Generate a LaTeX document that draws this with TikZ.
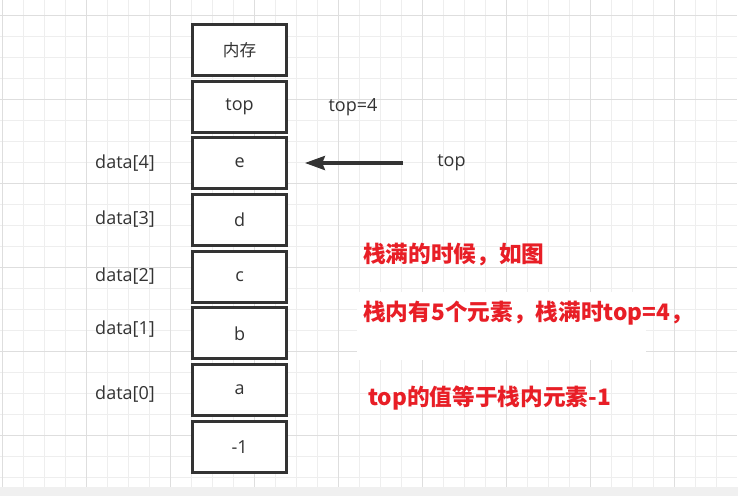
\documentclass[tikz,border=0pt]{standalone}
\usepackage{fontspec}
\setmainfont{Open Sans}
\newfontfamily\cjk{Noto Sans CJK SC}
\usetikzlibrary{arrows.meta}
\definecolor{gridminor}{RGB}{238,238,238}
\definecolor{gridmajor}{RGB}{222,222,222}
\definecolor{ink}{RGB}{51,51,51}
\definecolor{redtxt}{RGB}{232,30,38}
\definecolor{band}{RGB}{240,240,240}
\begin{document}
\begin{tikzpicture}[x=0.75pt,y=-0.75pt,
  cell/.style={draw=ink, line width=2.25pt, minimum width=70.7pt, minimum height=38.25pt,
    inner sep=0pt, text=ink, fill=white, font=\fontsize{13.5pt}{16pt}\selectfont},
  lbl/.style={text=ink, inner sep=0pt, font=\fontsize{13.5pt}{16pt}\selectfont},
  note/.style={text=redtxt, anchor=west, inner sep=0pt, font=\cjk\bfseries\fontsize{17pt}{20pt}\selectfont},
  arr/.style={draw=ink, line width=2.6pt, -{Stealth[length=15pt,width=10.5pt,inset=2pt]}},
  gminor/.style={draw=gridminor, line width=0.75pt},
  gmajor/.style={draw=gridmajor, line width=0.75pt}
]
\useasboundingbox (0,0) rectangle (738,496);
\fill[white] (0,0) rectangle (738,496);
% grid
\foreach \x in {2.5,23.5,...,737} \draw[gminor] (\x,0) -- (\x,487);
\foreach \y in {15.3,36.3,...,480} \draw[gminor] (0,\y) -- (737,\y);
\foreach \x in {2.5,86.5,...,737} \draw[gmajor] (\x,0) -- (\x,487);
\foreach \y in {15.3,99.3,...,480} \draw[gmajor] (0,\y) -- (737,\y);
\fill[band] (0,487) rectangle (738,496);
\fill[white] (357,292) rectangle (646,360);
% stack cells
\node[cell] (mem) at (239.6,50.3) {\cjk\fontsize{12.5pt}{15pt}\selectfont 内存};
\node[cell] (topc) at (239.6,106.9) {top};
\node[cell] (e) at (239.6,163.0) {e};
\node[cell] (d) at (239.6,219.5) {d};
\node[cell] (c) at (239.6,276.7) {c};
\node[cell] (b) at (239.6,333.3) {b};
\node[cell] (a) at (239.6,390.1) {a};
\node[cell] (m1) at (239.6,446.6) {-1};
% index labels
\node[lbl] (d4) at (125,163) {data[4]};
\node[lbl] (d3) at (125,219) {data[3]};
\node[lbl] (d2) at (125,276) {data[2]};
\node[lbl] (d1) at (125,329) {data[1]};
\node[lbl] (d0) at (125,394) {data[0]};
\node[lbl] (topeq) at (353,107) {top=4};
\node[lbl] (toplbl) at (451.5,163) {top};
% arrow
\coordinate (arrS) at (403,163.0);
\draw[arr, shorten >=12.5pt] (arrS) -- (e.east);
% notes
\node[note] (n1) at (363,255) {栈满的时候，如图};
\node[note] (n2) at (363,313) {栈内有5个元素，栈满时top=4，};
\node[note] (n3) at (368,398) {top的值等于栈内元素-1};
\end{tikzpicture}
\end{document}
